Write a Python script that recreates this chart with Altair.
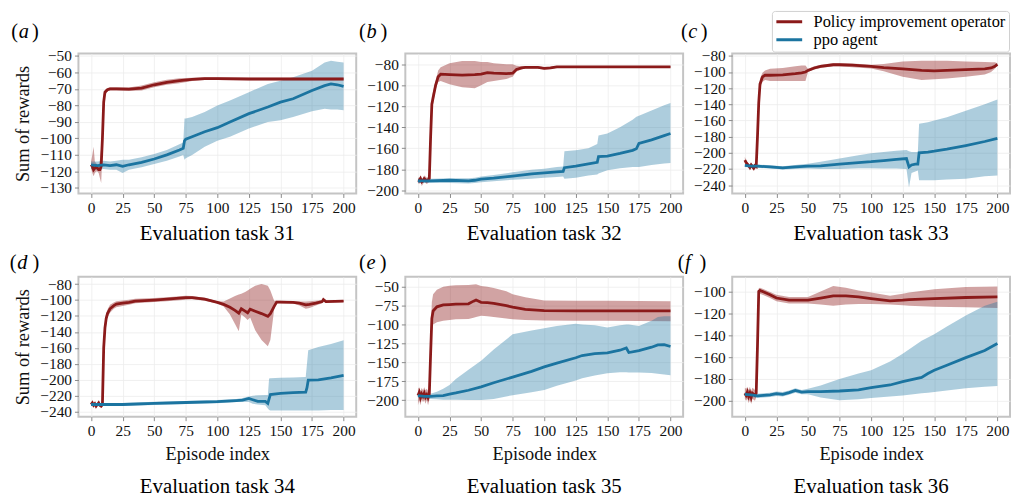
import altair as alt
import pandas as pd

FONT = "Liberation Serif"
RED = "#8b1a1a"
BLUE = "#1b74a0"
SERIES = ["Policy improvement operator", "ppo agent"]
X_TICKS = [0, 25, 50, 75, 100, 125, 150, 175, 200]

# ---------------- panel (a) : Evaluation task 31 ----------------
A_RED_EP = [0, 1, 2, 3, 4, 5, 6, 7, 8, 9, 10, 11, 13, 15, 20, 30, 40, 50, 60, 70, 80, 90, 100, 125, 150, 175, 200]
A_RED_MEAN = [-116, -117, -119, -118, -117, -118, -119, -119, -117, -100, -78, -72, -70.5, -70, -70, -70.2, -69.5, -67.5, -66, -65, -64.2, -63.8, -63.8, -64, -64, -64, -64]
A_RED_LO = [-118, -121, -123, -121, -120, -120, -121, -124, -127, -110, -84, -74, -71.5, -71, -71, -71.2, -71, -69, -67.5, -66.5, -65.2, -64.6, -64.6, -64.8, -64.8, -64.8, -64.8]
A_RED_HI = [-114, -110, -105, -114, -115, -116, -117, -113, -106, -92, -73, -70.5, -69.5, -69, -69, -69.2, -68, -66, -64.5, -63.5, -63.2, -63, -63, -63.2, -63.2, -63.2, -63.2]
A_BLUE_EP = [0, 5, 10, 15, 20, 25, 30, 40, 50, 60, 70, 73, 74, 75, 80, 90, 100, 110, 125, 140, 150, 160, 175, 185, 190, 195, 200]
A_BLUE_MEAN = [-116, -116.5, -116, -116.5, -116, -117, -116, -114.5, -112.5, -110, -107, -106, -101.5, -100.5, -99, -96, -93.5, -90, -85, -81, -78, -76, -71, -68, -67, -67.5, -68.5]
A_BLUE_LO = [-118.5, -119, -118.5, -119, -119, -121, -119, -117.5, -115.5, -113.5, -111, -110, -113, -112, -110, -105, -101.5, -99, -94, -90, -89, -87, -83.5, -82, -82.5, -82.5, -83]
A_BLUE_HI = [-114, -114, -113.5, -114, -113.5, -113, -113, -111.5, -109.5, -107, -103.5, -102.5, -88, -88, -87, -84, -80, -77, -72, -67, -65, -63, -59, -54, -53, -53.5, -54]

# ---------------- panel (b) : Evaluation task 32 ----------------
B_RED_EP = [0, 1, 2, 3, 4, 5, 6, 7, 8, 9, 10, 11, 12, 14, 16, 18, 25, 35, 45, 50, 55, 60, 70, 75, 78, 82, 85, 95, 100, 105, 110, 150, 200]
B_RED_MEAN = [-190.5, -191, -189, -192, -191, -189, -190, -191, -190, -189, -150, -118, -112, -100, -92, -89.5, -90, -90.5, -90, -89.5, -88, -88.5, -89, -88.5, -85, -83.5, -83, -83, -84, -83.5, -82.5, -82.5, -82.5]
B_RED_LO = [-193, -194, -192, -196, -194, -192, -193, -194, -193, -192, -160, -125, -118, -104, -97, -96, -99, -102, -103, -100, -97, -96, -94, -92, -87, -85, -84, -84, -85, -84.5, -83.3, -83.3, -83.3]
B_RED_HI = [-188, -188, -186, -189, -188, -186, -187, -188, -187, -186, -140, -111, -106, -96, -86, -83, -79, -77, -77, -78, -78, -79, -80, -80, -81.5, -82, -82, -82, -83, -82.5, -81.7, -81.7, -81.7]
B_BLUE_EP = [0, 10, 25, 40, 45, 50, 60, 75, 90, 100, 110, 115, 116, 125, 135, 142, 143, 150, 160, 170, 173, 175, 185, 195, 200]
B_BLUE_MEAN = [-191, -191, -190.5, -191, -190.5, -189.5, -188.5, -186.5, -184.5, -183.5, -182.5, -182, -178.5, -177, -175, -173.5, -168, -167.5, -165, -162, -160.5, -155.5, -152, -148, -146]
B_BLUE_LO = [-193, -193, -193, -193.5, -193, -192.5, -191.5, -190, -189, -188, -187.5, -187, -189, -188, -186, -185, -184, -181, -179, -178, -178, -178, -176, -174.5, -174]
B_BLUE_HI = [-189, -189, -188.5, -188.5, -188, -187, -185.5, -183, -180.5, -179.5, -178, -177.5, -163, -162, -160, -156, -148, -146, -140, -133, -130, -129, -124, -119, -117]

# ---------------- panel (c) : Evaluation task 33 ----------------
C_RED_EP = [0, 1, 2, 3, 4, 5, 6, 7, 8, 9, 10, 11, 12, 14, 16, 20, 30, 40, 45, 48, 50, 55, 60, 70, 75, 85, 100, 110, 125, 140, 150, 160, 175, 190, 195, 198, 200]
C_RED_MEAN = [-209, -212, -214, -216, -218, -215, -217, -219, -216, -217, -180, -138, -115, -106, -104, -104, -103.5, -102, -101, -100, -98, -95, -93, -91, -91, -91.5, -93, -94.5, -96, -98, -98.5, -98, -97, -96, -95, -93, -90.5]
C_RED_LO = [-212, -215, -217, -219, -222, -218, -220, -222, -219, -220, -190, -145, -120, -112, -110, -111, -111, -111, -111, -111, -100, -97, -95, -93, -93, -94, -95.5, -99, -106, -110, -109, -108, -106, -103, -100, -96, -92]
C_RED_HI = [-205, -209, -211, -213, -215, -212, -214, -216, -213, -214, -170, -132, -108, -101, -98, -96, -95, -93, -92, -92, -96, -93, -91, -89, -89, -89.5, -91, -90, -87, -86, -86, -86, -87, -87.5, -88, -88, -89]
C_BLUE_EP = [0, 5, 10, 20, 30, 40, 50, 60, 75, 90, 100, 110, 120, 128, 130, 132, 135, 137, 138, 145, 150, 160, 175, 190, 200]
C_BLUE_MEAN = [-215.5, -216.5, -216.5, -217.5, -218.5, -217.5, -216.5, -216, -214, -212, -211, -209.5, -208, -207, -217.5, -215, -214, -214, -200, -199, -198, -195.5, -191, -186, -182]
C_BLUE_LO = [-217.5, -218.5, -218.5, -219.5, -220.5, -220, -219.5, -220, -220, -219, -219, -219.5, -219.5, -220, -243, -225, -223, -222, -234, -234, -234, -233, -232, -229, -228]
C_BLUE_HI = [-213.5, -214.5, -214.5, -215.5, -216.5, -215, -213.5, -211, -207, -203, -200.5, -199, -197.5, -196.5, -198, -199, -199, -199, -164, -162, -160, -156, -148, -140, -134]

# ---------------- panel (d) : Evaluation task 34 ----------------
D_RED_EP = [0, 1, 2, 3, 4, 5, 6, 7, 8, 9, 10, 11, 12, 13, 15, 18, 20, 25, 30, 35, 50, 60, 75, 80, 90, 100, 105, 110, 114, 117, 119, 122, 124, 126, 130, 135, 140, 142, 145, 147, 150, 160, 165, 170, 173, 178, 183, 184, 186, 200]
D_RED_MEAN = [-231, -229, -232, -230, -233, -231, -229, -232, -233, -231, -160, -135, -123, -117, -111, -107, -105, -104, -103, -101.5, -100, -99, -97, -97, -99, -103, -105.5, -109, -113, -116.5, -111, -114, -116, -111.5, -114, -117, -120.5, -117, -108, -102.5, -102.5, -103, -104, -106, -105.5, -104, -102, -99.5, -102, -101.5]
D_RED_LO = [-233, -231, -234, -232, -235, -233, -231, -234, -235, -233, -175, -145, -130, -122, -116, -111, -109, -107.5, -106, -104, -102.5, -101.5, -99.5, -99, -101, -104.5, -108, -118, -130, -139, -118, -122, -125, -122, -138, -150, -158, -150, -112, -104, -104, -104.5, -107, -111, -110, -107, -104, -101, -103, -102.5]
D_RED_HI = [-229, -227, -230, -228, -231, -229, -227, -230, -231, -229, -150, -128, -117, -112, -106, -103, -101.5, -100.5, -99.5, -98.5, -97.5, -96.5, -94.5, -95, -97, -101.5, -102, -98, -95, -93, -92, -90, -88, -86, -82, -80, -82, -88, -101, -101, -101, -101.5, -102, -102, -101.5, -101, -100, -98, -100.5, -100.5]
D_BLUE_EP = [0, 10, 25, 50, 75, 100, 115, 120, 125, 128, 132, 138, 140, 141, 142, 150, 160, 170, 171, 172, 180, 190, 200]
D_BLUE_MEAN = [-231, -231, -231, -229.5, -228.5, -227.5, -226, -225.5, -223.5, -225, -227, -227, -229.5, -224, -218.5, -217, -216, -215.5, -210, -200.5, -200, -197.5, -194.5]
D_BLUE_LO = [-233, -233, -233, -231.5, -230.5, -229.5, -228, -228, -228, -230, -231, -232, -236, -238, -238.5, -238.5, -238.5, -238.5, -238.5, -238.5, -238.5, -238, -238]
D_BLUE_HI = [-229, -229, -229, -227.5, -226.5, -225.5, -224, -223, -221, -220, -219.5, -219, -219, -198.5, -198, -197.5, -197, -196.5, -180, -163, -159, -155, -150.5]

# ---------------- panel (e) : Evaluation task 35 ----------------
E_RED_EP = [0, 1, 2, 3, 4, 5, 6, 7, 8, 9, 10, 11, 12, 15, 20, 25, 30, 40, 44, 46, 50, 55, 60, 70, 75, 85, 100, 125, 150, 175, 200]
E_RED_MEAN = [-194, -190, -197, -192, -195, -191, -196, -193, -197, -192, -140, -92, -82, -76.5, -74, -73.5, -73, -72.5, -69, -67.5, -70.5, -71, -72, -75, -77, -80, -81.5, -82, -82, -82, -82]
E_RED_LO = [-207, -200, -207, -199, -203, -200, -205, -200, -207, -200, -165, -110, -100, -97, -95, -94, -93, -92.5, -91, -90, -88.5, -89, -90, -92, -93, -94, -94.7, -95, -95, -95.3, -95.6]
E_RED_HI = [-185, -183, -188, -184, -187, -183, -187, -185, -188, -184, -115, -70, -60, -54, -50, -48.5, -48, -47.5, -47, -46.5, -49, -50, -51.5, -56, -60, -64, -68, -68.5, -68.5, -68.7, -69]
E_BLUE_EP = [0, 5, 10, 15, 20, 25, 30, 40, 50, 60, 75, 90, 100, 110, 125, 130, 140, 150, 160, 165, 167, 175, 185, 190, 195, 200]
E_BLUE_MEAN = [-194, -195, -195, -194.5, -194, -192, -190.5, -187, -182.5, -177, -169.5, -162, -156, -151, -144, -141, -138.5, -137.5, -134, -131, -137, -134.5, -130, -127, -126.5, -129]
E_BLUE_LO = [-197, -198, -198.5, -199, -199.5, -199.5, -199.5, -200, -200, -198.5, -193.5, -189.5, -186.5, -181, -174, -171, -167.5, -164.5, -163, -163, -163.5, -163.5, -164, -165, -166, -167]
E_BLUE_HI = [-191, -191.5, -191.5, -189, -185, -180, -172, -160, -148, -133, -113, -108, -105, -102, -99, -100, -101, -104, -101, -100, -100, -102, -95, -90, -89, -89]

# ---------------- panel (f) : Evaluation task 36 ----------------
F_RED_EP = [0, 1, 2, 3, 4, 5, 6, 7, 8, 9, 10, 11, 12, 13, 15, 20, 25, 35, 50, 60, 70, 80, 90, 100, 115, 125, 130, 150, 175, 200]
F_RED_MEAN = [-193, -195, -192, -196, -193, -197, -193, -194, -195, -193, -150, -100, -99, -99.5, -100.5, -103, -106, -108, -108, -106, -104, -104, -105, -106.5, -108.5, -108, -107.5, -106.5, -105.5, -105]
F_RED_LO = [-198, -200, -198, -202, -199, -203, -198, -199, -200, -197, -165, -103, -102, -102.5, -103.5, -106, -109, -111, -111, -112, -113, -112, -111.5, -111.5, -112, -112.5, -113, -114, -114.5, -115]
F_RED_HI = [-188, -189, -187, -190, -187, -191, -188, -189, -190, -189, -135, -97, -96.5, -97, -98, -100.5, -103, -105, -105, -100, -95, -96.5, -99, -101, -104, -102, -101, -98, -96, -95.5]
F_BLUE_EP = [0, 5, 10, 15, 20, 25, 30, 35, 40, 45, 50, 60, 75, 90, 100, 115, 125, 140, 145, 150, 160, 175, 190, 200]
F_BLUE_MEAN = [-194, -194.5, -195.5, -195, -194.5, -193.5, -194, -192.5, -190.5, -192, -191.5, -191.5, -191, -190, -188, -185.5, -182.5, -178.5, -175, -172, -167.5, -160.5, -154, -147.5]
F_BLUE_LO = [-196, -196.5, -197.5, -197, -196.5, -195.5, -196, -194.5, -192.5, -194, -194, -197, -199.5, -198.5, -197.5, -196, -195, -193, -192.5, -192, -190.5, -188.5, -187, -186.5]
F_BLUE_HI = [-192, -192.5, -193.5, -193, -192.5, -191.5, -192, -190.5, -188.5, -190, -189, -186, -180, -175, -172, -164, -157, -145, -142, -139, -132, -122, -113, -109.5]

# y-axis domains / ticks per panel
A_YDOM, A_YTICKS = [-133.4, -48.6], [-130, -120, -110, -100, -90, -80, -70, -60, -50]
B_YDOM, B_YTICKS = [-203.1, -69.9], [-200, -180, -160, -140, -120, -100, -80]
C_YDOM, C_YTICKS = [-250.3, -77.2], [-240, -220, -200, -180, -160, -140, -120, -100, -80]
D_YDOM, D_YTICKS = [-246.3, -70.9], [-240, -220, -200, -180, -160, -140, -120, -100, -80]
E_YDOM, E_YTICKS = [-222.0, -36.8], [-200, -175, -150, -125, -100, -75, -50]
F_YDOM, F_YTICKS = [-214.5, -86.6], [-200, -180, -160, -140, -120, -100]

W, H = 280, 141


def series_df(ep, mean, lo, hi, name):
    return pd.DataFrame({"ep": ep, "mean": mean, "lo": lo, "hi": hi, "series": name})


def txt(s, x, y, size, style="normal", align="left"):
    return alt.Chart(pd.DataFrame({"t": [s]})).mark_text(
        align=align, baseline="alphabetic", font=FONT, fontSize=size,
        fontStyle=style, color="black"
    ).encode(x=alt.value(x), y=alt.value(y), text="t:N")


def panel(red, blue, ydom, yticks, letter, lx, rgap, row, caption, ytitle):
    df = pd.concat([series_df(*red, SERIES[0]), series_df(*blue, SERIES[1])], ignore_index=True)
    xaxis = alt.Axis(values=X_TICKS, title="Episode index" if row == 1 else None,
                     titleFontSize=18.5, titlePadding=6)
    yaxis = alt.Axis(values=yticks, title=ytitle, titleFontSize=18.5, titlePadding=7)
    xs = alt.Scale(domain=[-10, 210], nice=False, zero=False)
    ys = alt.Scale(domain=ydom, nice=False, zero=False)

    def X():
        return alt.X("ep:Q", scale=xs, axis=xaxis)

    def Y(f):
        return alt.Y(f, scale=ys, axis=yaxis)

    base = alt.Chart(df)
    band_r = base.transform_filter(alt.datum.series == SERIES[0]).mark_area(
        color=RED, opacity=0.4, clip=True).encode(x=X(), y=Y("lo:Q"), y2="hi:Q")
    band_b = base.transform_filter(alt.datum.series == SERIES[1]).mark_area(
        color=BLUE, opacity=0.36, clip=True).encode(x=X(), y=Y("lo:Q"), y2="hi:Q")
    lines = base.mark_line(strokeWidth=2.8, clip=True).encode(
        x=X(), y=Y("mean:Q"),
        color=alt.Color("series:N", scale=alt.Scale(domain=SERIES, range=[RED, BLUE]),
                        legend=alt.Legend(
                            title=None, orient="none", legendX=699, legendY=-43,
                            symbolType="stroke", symbolStrokeWidth=3, symbolSize=676,
                            clipHeight=16, labelFont=FONT, labelFontSize=16.5, labelColor="black",
                            labelOffset=10, strokeColor="#cfcfcf", fillColor="white",
                            padding=3, rowPadding=1, cornerRadius=3, labelLimit=400)),
        detail="series:N")
    ly = -16 if row == 0 else -8
    cy = H + 47 if row == 0 else H + 76.6
    return alt.layer(
        band_r, band_b, lines,
        txt("(", lx, ly, 20.5),
        txt(letter, lx + 7.5, ly, 20.5, style="italic"),
        txt(")", lx + rgap, ly, 20.5),
        txt(caption, W / 2, cy, 21, align="center"),
    ).properties(width=W, height=H)


pa = panel((A_RED_EP, A_RED_MEAN, A_RED_LO, A_RED_HI), (A_BLUE_EP, A_BLUE_MEAN, A_BLUE_LO, A_BLUE_HI),
           A_YDOM, A_YTICKS, "a", -67.7, 21, 0, "Evaluation task 31", "Sum of rewards")
pb = panel((B_RED_EP, B_RED_MEAN, B_RED_LO, B_RED_HI), (B_BLUE_EP, B_BLUE_MEAN, B_BLUE_LO, B_BLUE_HI),
           B_YDOM, B_YTICKS, "b", -46.7, 21.7, 0, "Evaluation task 32", None)
pc = panel((C_RED_EP, C_RED_MEAN, C_RED_LO, C_RED_HI), (C_BLUE_EP, C_BLUE_MEAN, C_BLUE_LO, C_BLUE_HI),
           C_YDOM, C_YTICKS, "c", -51.7, 20, 0, "Evaluation task 33", None)
pd_ = panel((D_RED_EP, D_RED_MEAN, D_RED_LO, D_RED_HI), (D_BLUE_EP, D_BLUE_MEAN, D_BLUE_LO, D_BLUE_HI),
            D_YDOM, D_YTICKS, "d", -69.3, 23, 1, "Evaluation task 34", "Sum of rewards")
pe = panel((E_RED_EP, E_RED_MEAN, E_RED_LO, E_RED_HI), (E_BLUE_EP, E_BLUE_MEAN, E_BLUE_LO, E_BLUE_HI),
           E_YDOM, E_YTICKS, "e", -46.7, 21, 1, "Evaluation task 35", None)
pf = panel((F_RED_EP, F_RED_MEAN, F_RED_LO, F_RED_HI), (F_BLUE_EP, F_BLUE_MEAN, F_BLUE_LO, F_BLUE_HI),
           F_YDOM, F_YTICKS, "f", -55, 22, 1, "Evaluation task 36", None)

chart = alt.concat(
    pa, pb, pc, pd_, pe, pf, columns=3,
    spacing={"row": 84, "column": 49.5}, bounds="flush"
).properties(
    padding={"left": 0, "top": 0, "right": 0, "bottom": 0}
).configure_axis(
    labelFont=FONT, titleFont=FONT, labelFontSize=15.5, labelColor="#111111",
    titleColor="#111111", titleFontWeight="normal", gridColor="#ececec", gridWidth=0.8,
    tickColor="#8a8a8a", tickSize=4, labelPadding=3, domain=False
).configure_view(
    stroke="#c4c4c4", strokeWidth=2
)

chart.save("out.html", embed_options={"renderer": "svg", "actions": False})
